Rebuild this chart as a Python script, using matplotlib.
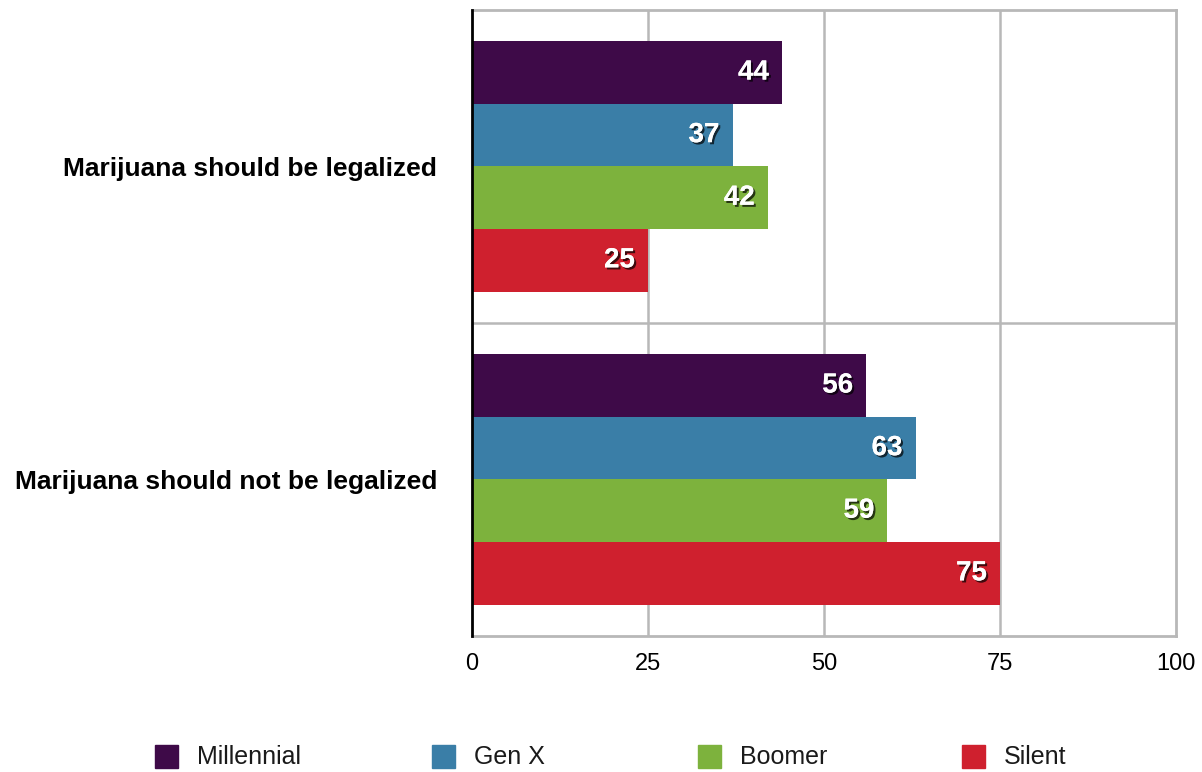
import matplotlib
matplotlib.use("Agg")
import matplotlib.pyplot as plt
import matplotlib.patheffects as pe
from matplotlib.patches import Rectangle
from matplotlib import font_manager
import numpy as np

categories = ["Marijuana should be legalized", "Marijuana should not be legalized"]
series = ["Millennial", "Gen X", "Boomer", "Silent"]
millennial = [44, 56]
gen_x = [37, 63]
boomer = [42, 59]
silent = [25, 75]
x_ticks = [0, 25, 50, 75, 100]

values = [millennial, gen_x, boomer, silent]
colors = ["#3e0a48", "#3a7ea7", "#7db23d", "#cf202e"]

plt.rcParams["font.family"] = ["Liberation Sans", "DejaVu Sans"]

installed = {f.name for f in font_manager.fontManager.ttflist}
narrow = "Liberation Sans Narrow" if "Liberation Sans Narrow" in installed else None
if narrow:
    light_family = [narrow, "Liberation Sans"]
    tick_size, leg_size = 20, 22
else:
    light_family = ["Liberation Sans"]
    tick_size, leg_size = 17, 18

fig = plt.figure(figsize=(12.02, 7.72), dpi=100)
ax = fig.add_axes([0.3927, 0.1762, 0.5857, 0.8109])

bar_h = 0.2
offsets = [-0.3, -0.1, 0.1, 0.3]
ypos = np.arange(len(categories))

shadow = [pe.withSimplePatchShadow(offset=(1.5, -1.5), shadow_rgbFace="black", alpha=0.7),
          pe.Normal()]

for vals, off, col in zip(values, offsets, colors):
    bars = ax.barh(ypos + off, vals, height=bar_h, color=col, zorder=3)
    for rect, v in zip(bars, vals):
        ax.annotate(f"{v}", xy=(rect.get_width(), rect.get_y() + rect.get_height() / 2),
                    xytext=(-13, 0), textcoords="offset pixels",
                    ha="right", va="center", color="white", fontsize=20,
                    fontweight="bold", zorder=4, path_effects=shadow)

ax.set_xlim(0, 100)
ax.set_ylim(1.5, -0.5)
ax.set_xticks(x_ticks)
ax.set_xticklabels([str(t) for t in x_ticks], fontsize=tick_size, family=light_family)
ax.set_yticks(ypos)
ax.set_yticklabels(categories, fontsize=19, fontweight="bold")
ax.tick_params(axis="both", length=0)
ax.tick_params(axis="x", pad=12)
ax.tick_params(axis="y", pad=25)

grid_col = "#b8b8b8"
for t in x_ticks[1:-1]:
    ax.axvline(t, color=grid_col, lw=1.8, zorder=1)
ax.axhline(0.5, color=grid_col, lw=1.8, zorder=1)

for side in ["top", "right", "bottom"]:
    ax.spines[side].set_color(grid_col)
    ax.spines[side].set_linewidth(2)
ax.spines["left"].set_color("black")
ax.spines["left"].set_linewidth(2)
ax.spines["left"].set_zorder(5)

# legend row along the bottom
leg_x = [0.129, 0.359, 0.581, 0.800]
leg_y = 4 / 772
sq_w, sq_h = 23 / 1202, 23 / 772
for name, col, lx in zip(series, colors, leg_x):
    fig.add_artist(Rectangle((lx, leg_y), sq_w, sq_h, transform=fig.transFigure,
                             color=col, clip_on=False))
    fig.text(lx + sq_w + 19 / 1202, leg_y + sq_h / 2, name, fontsize=leg_size,
             family=light_family, ha="left", va="center", color="#1a1a1a")

fig.savefig("out.png", dpi=100)
